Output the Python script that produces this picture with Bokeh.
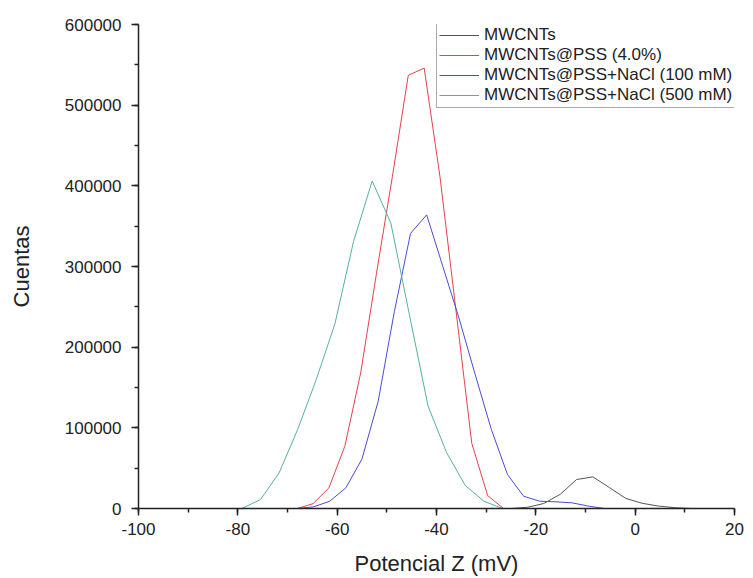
from bokeh.plotting import figure
from bokeh.models import Range1d, Legend, LegendItem, PrintfTickFormatter, SingleIntervalTicker
from bokeh.embed import file_html
from bokeh.resources import INLINE

# MWCNTs (black)
x_mw = [-25.0, -21.7, -18.4, -15.1, -11.8, -8.5, -5.2, -1.9, 1.4, 4.7, 8.0, 11.3]
y_mw = [0, 1500, 6200, 17500, 35900, 39200, 26000, 12500, 6500, 3000, 1000, 0]

# MWCNTs@PSS (4.0%) (red)
x_pss = [-68.05, -64.85, -61.66, -58.46, -55.27, -52.07, -48.87, -45.68, -42.48,
         -39.29, -36.09, -32.9, -29.7, -26.5]
y_pss = [0, 6000, 25600, 77100, 168000, 292000, 412000, 537000, 546000,
         411000, 246000, 81000, 16000, 0]

# MWCNTs@PSS+NaCl (100 mM) (blue)
x_100 = [-68.0, -64.77, -61.5, -58.25, -55.0, -51.74, -48.49, -45.23, -41.98, -38.72,
         -35.47, -32.21, -28.96, -25.7, -22.45, -19.2, -15.94, -12.69, -9.43, -6.18]
y_100 = [0, 2000, 9000, 25600, 61500, 133000, 244000, 341000, 364000, 300000,
         236000, 166000, 98000, 42000, 15200, 9000, 8300, 7000, 3000, 0]

# MWCNTs@PSS+NaCl (500 mM) (teal)
x_500 = [-79.2, -75.45, -71.7, -67.95, -64.2, -60.45, -56.7, -52.95, -49.2, -45.45,
         -41.7, -37.95, -34.2, -30.45, -26.7]
y_500 = [0, 11000, 44000, 98000, 160000, 229000, 331000, 406000, 354000, 240000,
         127000, 69000, 28500, 9000, 0]

labels = ["MWCNTs", "MWCNTs@PSS (4.0%)", "MWCNTs@PSS+NaCl (100 mM)", "MWCNTs@PSS+NaCl (500 mM)"]
colors = ["#555555", "#e8404a", "#4a4ad8", "#55b0a2"]

FONT = "Liberation Sans"

p = figure(width=753, height=578, output_backend="svg", toolbar_location=None,
           x_range=Range1d(-100, 20), y_range=Range1d(0, 600000),
           min_border_left=138, min_border_right=19, min_border_top=24, min_border_bottom=69)
p.outline_line_color = None
p.xgrid.visible = False
p.ygrid.visible = False
p.background_fill_color = "white"
p.border_fill_color = "white"

series = [(x_mw, y_mw), (x_pss, y_pss), (x_100, y_100), (x_500, y_500)]
renderers = []
for (xs, ys), c in zip(series, colors):
    r = p.line(xs, ys, line_color=c, line_width=1)
    renderers.append(r)

p.xaxis.ticker = SingleIntervalTicker(interval=20, num_minor_ticks=2)
p.yaxis.ticker = SingleIntervalTicker(interval=100000, num_minor_ticks=2)
p.xaxis.formatter = PrintfTickFormatter(format="%d")
p.yaxis.formatter = PrintfTickFormatter(format="%d")

for ax in (p.xaxis[0], p.yaxis[0]):
    ax.axis_line_color = "#222222"
    ax.axis_line_width = 1.5
    ax.major_tick_line_color = "#222222"
    ax.minor_tick_line_color = "#222222"
    ax.major_tick_line_width = 1.5
    ax.minor_tick_line_width = 1.5
    ax.major_tick_in = 0
    ax.major_tick_out = 7
    ax.minor_tick_in = 0
    ax.minor_tick_out = 4
    ax.major_label_text_font = FONT
    ax.major_label_text_font_size = "17px"
    ax.major_label_text_color = "#222222"
    ax.axis_label_text_font = FONT
    ax.axis_label_text_font_size = "22px"
    ax.axis_label_text_font_style = "normal"
    ax.axis_label_text_color = "#222222"

p.xaxis.major_label_standoff = 7
p.yaxis.major_label_standoff = 10
p.xaxis.axis_label = "Potencial Z (mV)"
p.yaxis.axis_label = "Cuentas"
p.xaxis.axis_label_standoff = 13
p.yaxis.axis_label_standoff = 28

legend = Legend(items=[LegendItem(label=l, renderers=[r]) for l, r in zip(labels, renderers)],
                location=(298, 400))
legend.label_text_font = FONT
legend.label_text_font_size = "17px"
legend.label_text_color = "#222222"
legend.glyph_width = 40
legend.glyph_height = 20
legend.label_height = 20
legend.spacing = 0
legend.padding = 2
legend.margin = 0
legend.label_standoff = 5
legend.border_line_color = "#555555"
legend.border_line_width = 1
legend.background_fill_color = "white"
legend.background_fill_alpha = 1
p.add_layout(legend, "center")

open("out.html", "w").write(file_html(p, INLINE))
